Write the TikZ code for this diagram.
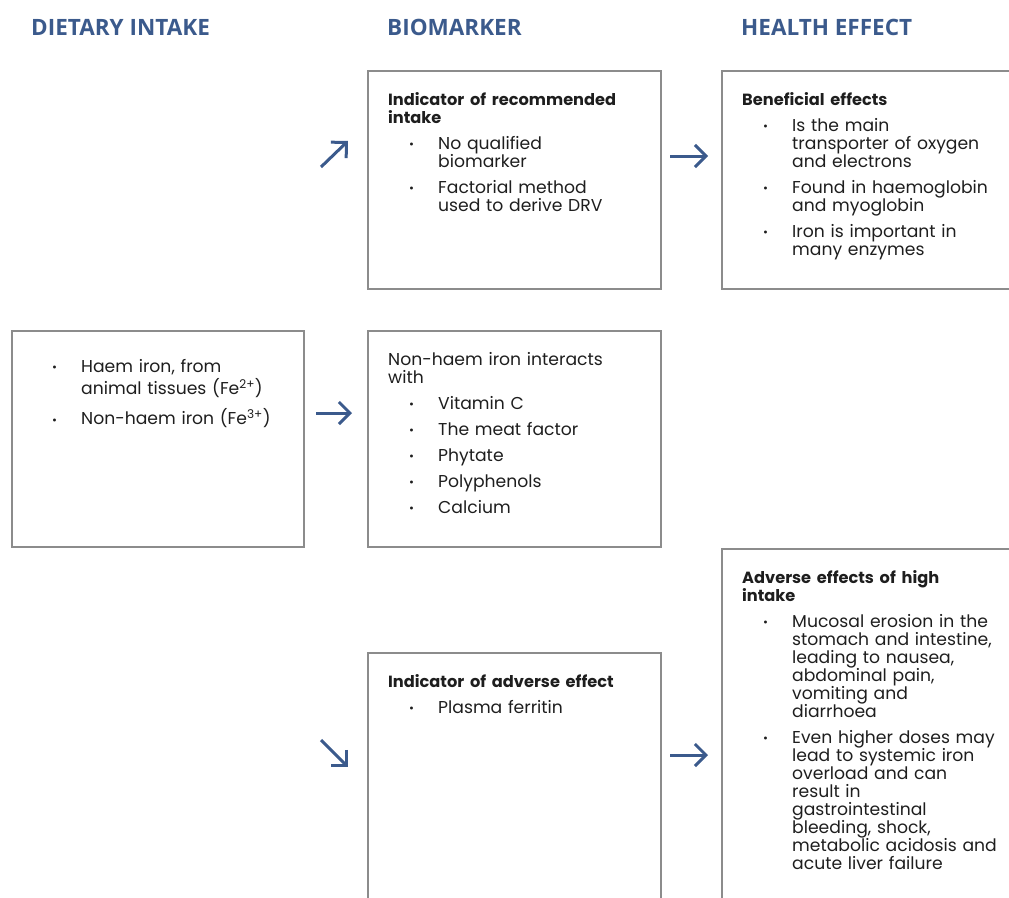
\documentclass[tikz,border=0pt]{standalone}
\usepackage{fontspec}
\setmainfont{Poppins}
\newfontfamily\headfont{Open Sans}
\usetikzlibrary{arrows.meta}
\definecolor{efsablue}{HTML}{3B5A8C}
\definecolor{boxgray}{HTML}{8C8C8C}
\definecolor{txt}{HTML}{1E1E1E}
\newcommand\bodysize{\fontsize{17.2}{18}\selectfont}
\newcommand\titlesize{\fontsize{16.2}{18}\selectfont}
\newcommand\bdot{\makebox[29pt][l]{\raisebox{0.5pt}{\fontsize{12}{12}\selectfont •}}}
\newcommand\firstitm[1]{\noindent\hangindent=50pt\hangafter=1\hspace*{21pt}\bdot#1\par}
\newcommand\itm[2][8pt]{\par\vspace{#1}\noindent\hangindent=50pt\hangafter=1\hspace*{21pt}\bdot#2\par}
\tikzset{
  box/.style={draw=boxgray, line width=1.6pt, anchor=north west, inner sep=0pt},
  head/.style={anchor=base west, inner sep=0pt, text=efsablue, font=\headfont\bfseries\fontsize{22.5}{22.5}\selectfont},
  body/.style={anchor=base west, inner sep=0pt, text=txt, text width=300pt, font=\bodysize},
  arr/.style={draw=efsablue, line width=3pt, -{Straight Barb[length=11pt,width=22pt]}},
}
\begin{document}
\begin{tikzpicture}[x=1pt,y=-1pt]
\useasboundingbox (0,0) rectangle (1009,897);
\clip (0,0) rectangle (1009,897);
% headers
\node[head] (h1) at (31,35) {DIETARY INTAKE};
\node[head] (h2) at (387,35) {BIOMARKER};
\node[head] (h3) at (741,35) {HEALTH EFFECT};
% boxes
\node[box, minimum width=292pt, minimum height=216pt] (A) at (11,330) {};
\node[box, minimum width=293pt, minimum height=218pt] (B1) at (367,70) {};
\node[box, minimum width=293pt, minimum height=216pt] (B2) at (367,330) {};
\node[box, minimum width=293pt, minimum height=270pt] (B3) at (367,652) {};
\node[box, minimum width=310pt, minimum height=218pt] (H1) at (721,70) {};
\node[box, minimum width=310pt, minimum height=370pt] (H2) at (721,548) {};
% texts
\node[body] (At) at (31,372) {%
\firstitm{Haem iron, from\newline\rule{0pt}{19pt}animal tissues (Fe\textsuperscript{2+})}
\itm[10pt]{Non-haem iron (Fe\textsuperscript{3+})}};
\node[body] (B1t) at (388,105) {%
{\titlesize\bfseries Indicator of recommended\newline intake\par}
\itm{No qualified\newline biomarker}
\itm{Factorial method\newline used to derive DRV}};
\node[body] (B2t) at (388,365) {%
Non-haem iron interacts\newline with\par
\itm{Vitamin C}
\itm{The meat factor}
\itm{Phytate}
\itm{Polyphenols}
\itm{Calcium}};
\node[body] (B3t) at (388,687) {%
{\titlesize\bfseries Indicator of adverse effect\par}
\itm{Plasma ferritin}};
\node[body] (H1t) at (742,105) {%
{\titlesize\bfseries Beneficial effects\par}
\itm{Is the main\newline transporter of oxygen\newline and electrons}
\itm{Found in haemoglobin\newline and myoglobin}
\itm{Iron is important in\newline many enzymes}};
\node[body] (H2t) at (742,583) {%
{\titlesize\bfseries Adverse effects of high\newline intake\par}
\itm{Mucosal erosion in the\newline stomach and intestine,\newline leading to nausea,\newline abdominal pain,\newline vomiting and\newline diarrhoea}
\itm{Even higher doses may\newline lead to systemic iron\newline overload and can\newline result in\newline gastrointestinal\newline bleeding, shock,\newline metabolic acidosis and\newline acute liver failure}};
% arrows
\coordinate (a1s) at (321,167); \coordinate (a1e) at (348,141);
\coordinate (a2s) at (316,413); \coordinate (a2e) at (352,413);
\coordinate (a3s) at (321,740); \coordinate (a3e) at (348,767);
\coordinate (a4s) at (670,156); \coordinate (a4e) at (708,156);
\coordinate (a5s) at (670,755); \coordinate (a5e) at (708,755);
\draw[arr] (a1s) -- (a1e);
\draw[arr] (a2s) -- (a2e);
\draw[arr] (a3s) -- (a3e);
\draw[arr] (a4s) -- (a4e);
\draw[arr] (a5s) -- (a5e);
\end{tikzpicture}
\end{document}
